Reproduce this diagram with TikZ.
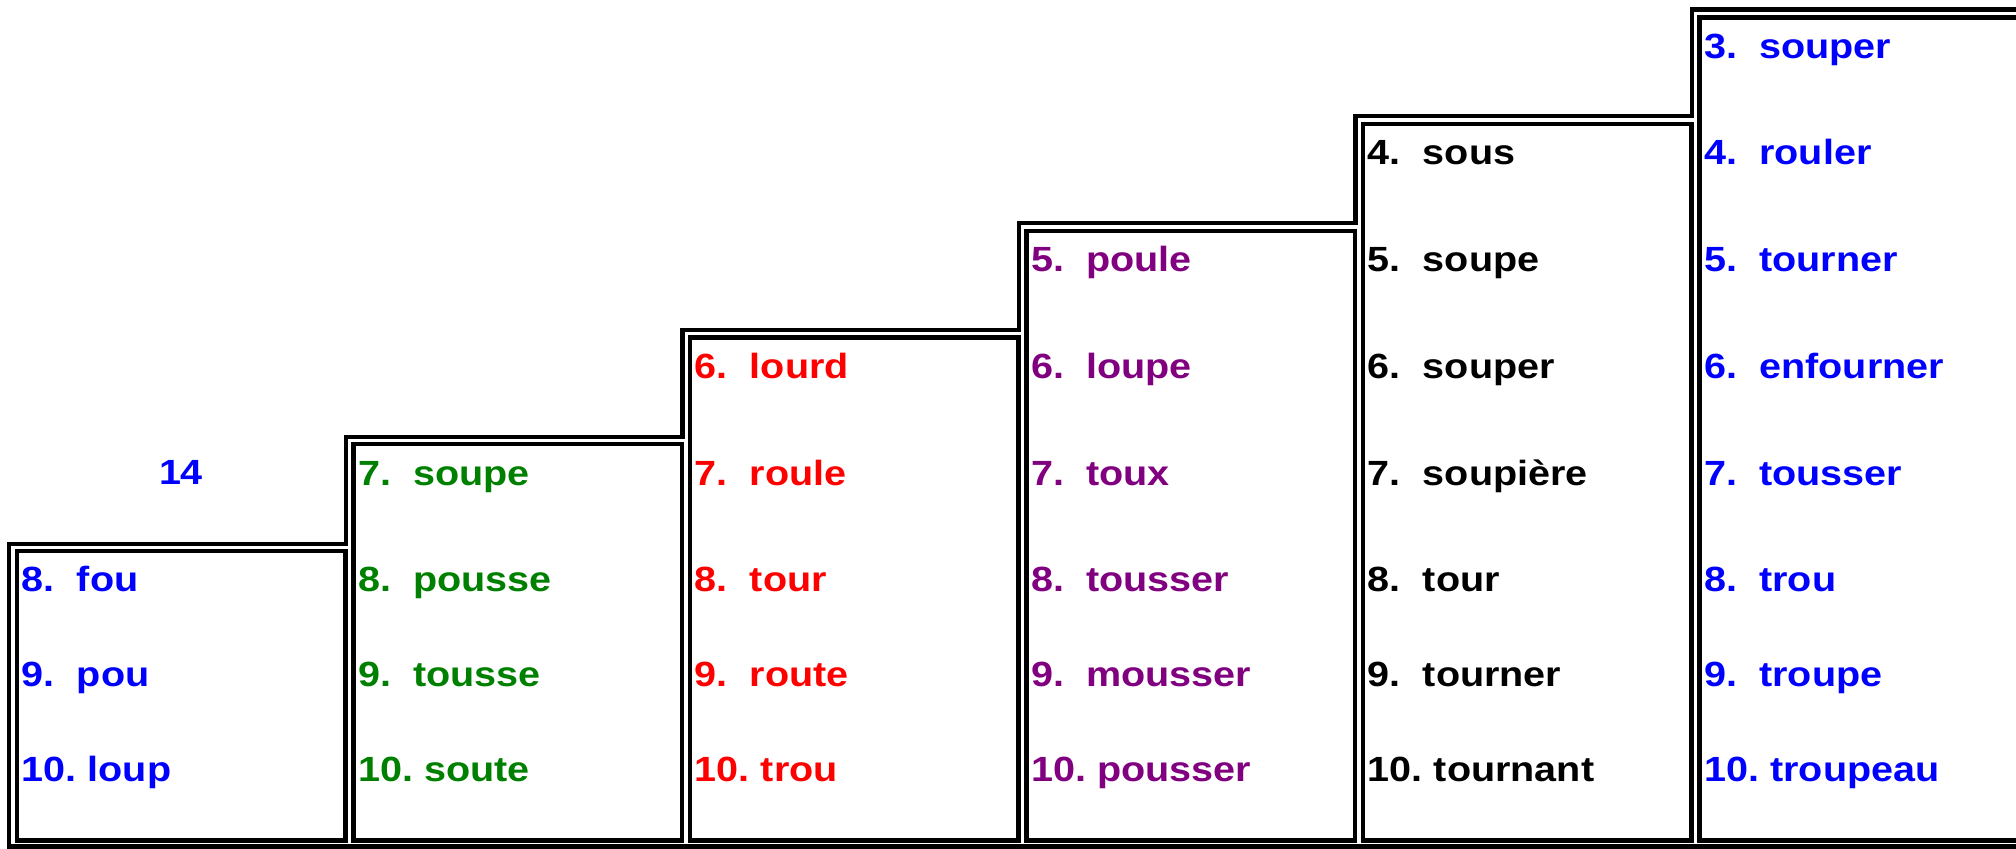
\documentclass[tikz,border=0pt]{standalone}
\usepackage{fontspec}
\usepackage{xcolor}
\usepackage{tikz}
\usetikzlibrary{positioning}
\newfontfamily\listfont{Liberation Sans}[FakeStretch=1.13]
\definecolor{wordgreen}{RGB}{0,128,0}
\definecolor{wordpurple}{RGB}{128,0,128}

\begin{document}
\begin{tikzpicture}[
  x=0.5pt, y=-0.5pt,
  frame/.style={draw, line width=2.2pt},
  entry/.style={anchor=base west, inner sep=0pt, font=\listfont\bfseries\fontsize{17.5}{21}\selectfont}
]
  \useasboundingbox (0,0) rectangle (2016,849);
  % outer staircase
  \draw[frame] (2030,846.5) -- (9,846.5) -- (9,544) -- (346,544) -- (346,437)
    -- (682.5,437) -- (682.5,330) -- (1019,330) -- (1019,223) -- (1355.5,223)
    -- (1355.5,116) -- (1692,116) -- (1692,9.4) -- (2030,9.4);
  % one box per column
  \foreach \col/\first/\clr/\words in {
      1/8/blue/{fou,pou,loup},
      2/7/wordgreen/{soupe,pousse,tousse,soute},
      3/6/red/{lourd,roule,tour,route,trou},
      4/5/wordpurple/{poule,loupe,toux,tousser,mousser,pousser},
      5/4/black/{sous,soupe,souper,soupière,tour,tourner,tournant},
      6/3/blue/{souper,rouler,tourner,enfourner,tousser,trou,troupe,troupeau}} {
    \draw[frame] ({17+336.5*(\col-1)},{551-106.7*(\col-1)}) rectangle ({345.5+336.5*(\col-1)},840.5);
    \foreach \w [count=\n from \first] in \words {
      \node[entry, text=\clr] (w\col-\n) at ({21.5+336.5*(\col-1)},{\n<9 ? 58.3+(\n-3)*106.7 : 686.7+(\n-9)*95})
        {\ifnum\n<10 \n.\ \ \else\n.\ \fi\w};
    }
  }
  \node[entry, anchor=base, text=blue] (total) at (181,485) {14};
\end{tikzpicture}
\end{document}
